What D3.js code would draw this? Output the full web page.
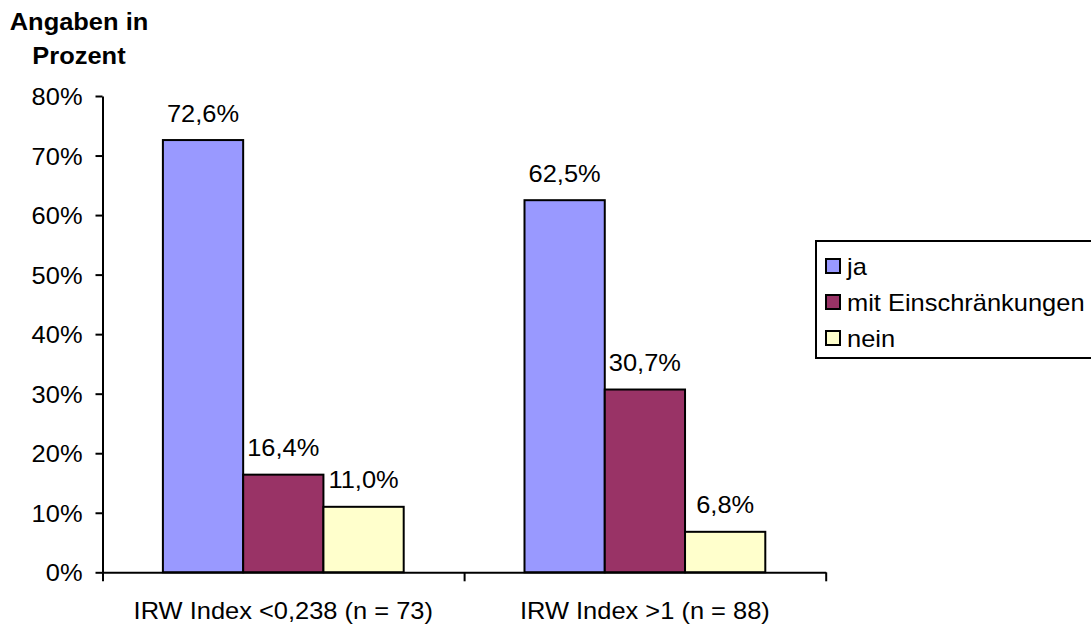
<!DOCTYPE html>
<html>
<head>
<meta charset="utf-8">
<script src="https://cdn.jsdelivr.net/npm/d3@7"></script>
<style>
  html, body { margin: 0; padding: 0; background: #fff; }
  svg { display: block; }
  text { font-family: "Liberation Sans", Arial, sans-serif; font-size: 24px; fill: #000; }
</style>
</head>
<body>
<svg id="chart" width="1091" height="625"></svg>
<script>
// Data
const categories = ["IRW Index <0,238 (n = 73)", "IRW Index >1 (n = 88)"];
const seriesNames = ["ja", "mit Einschränkungen", "nein"];
const seriesColors = ["#9999FF", "#993366", "#FFFFCC"];
const jaValues = [72.6, 62.5];
const mitValues = [16.4, 30.7];
const neinValues = [11.0, 6.8];
const yTicks = [0, 10, 20, 30, 40, 50, 60, 70, 80];
const titleLines = ["Angaben in", "Prozent"];

const series = [jaValues, mitValues, neinValues];
const fmt = v => v.toFixed(1).replace(".", ",") + "%";

const svg = d3.select("#chart");
const stretch = 1.06;

// widen glyphs horizontally a little
function widen(sel) {
  sel.each(function () {
    const w = this.getComputedTextLength();
    this.setAttribute("textLength", w * stretch);
    this.setAttribute("lengthAdjust", "spacingAndGlyphs");
  });
}

const plot = { left: 102.5, right: 825.7, top: 96, bottom: 572.3 };

const x0 = d3.scaleBand()
  .domain(categories)
  .range([plot.left, plot.right])
  .paddingInner(0)
  .paddingOuter(0);

const groupPad = 60.4;
const x1 = d3.scaleBand()
  .domain(seriesNames)
  .range([groupPad, x0.bandwidth() - groupPad])
  .padding(0);

const y = d3.scaleLinear().domain([0, 80]).range([plot.bottom, plot.top]);

// Bars
const groups = svg.append("g").selectAll("g")
  .data(categories)
  .join("g")
  .attr("transform", d => `translate(${x0(d)},0)`);

groups.each(function (cat, ci) {
  const g = d3.select(this);
  const rows = seriesNames.map((s, si) => ({ s, si, v: series[si][ci] }));
  g.selectAll("rect")
    .data(rows)
    .join("rect")
    .attr("x", d => x1(d.s))
    .attr("y", d => y(d.v))
    .attr("width", x1.bandwidth())
    .attr("height", d => y(0) - y(d.v))
    .attr("fill", d => seriesColors[d.si])
    .attr("stroke", "#000")
    .attr("stroke-width", 2);
  g.selectAll("text.val")
    .data(rows)
    .join("text")
    .attr("class", "val")
    .attr("x", d => x1(d.s) + x1.bandwidth() / 2)
    .attr("y", d => y(d.v) - 18.5)
    .attr("text-anchor", "middle")
    .text(d => fmt(d.v))
    .call(widen);
});

// Y axis
const yAxis = d3.axisLeft(y)
  .tickValues(yTicks)
  .tickFormat(d => d + "%")
  .tickSize(7)
  .tickSizeOuter(0)
  .tickPadding(13);
const yg = svg.append("g")
  .attr("transform", `translate(${plot.left},0)`)
  .call(yAxis);
yg.select(".domain").attr("stroke", "#000").attr("stroke-width", 2);
yg.selectAll(".tick line").attr("stroke", "#000").attr("stroke-width", 2);
yg.selectAll(".tick text")
  .attr("font-size", null)
  .attr("font-family", null)
  .attr("dy", "0.36em")
  .call(widen);

// X axis with boundary ticks between categories
const xLin = d3.scaleLinear().domain([0, categories.length]).range([plot.left, plot.right]);
const xAxis = d3.axisBottom(xLin)
  .tickValues(d3.range(categories.length + 1))
  .tickFormat("")
  .tickSize(9)
  .tickSizeOuter(0);
const xg = svg.append("g")
  .attr("transform", `translate(0,${plot.bottom})`)
  .call(xAxis);
xg.select(".domain").attr("stroke", "#000").attr("stroke-width", 2);
xg.selectAll(".tick line").attr("stroke", "#000").attr("stroke-width", 2);

svg.append("g").selectAll("text")
  .data(categories)
  .join("text")
  .attr("x", d => x0(d) + x0.bandwidth() / 2)
  .attr("y", 619)
  .attr("text-anchor", "middle")
  .text(d => d)
  .call(widen);

// Axis title
svg.append("g").selectAll("text")
  .data(titleLines)
  .join("text")
  .attr("x", 79)
  .attr("y", (d, i) => 30 + i * 34)
  .attr("text-anchor", "middle")
  .attr("font-weight", "bold")
  .text(d => d)
  .call(widen);

// Legend
const legend = svg.append("g");
legend.append("rect")
  .attr("x", 816)
  .attr("y", 241)
  .attr("width", 300)
  .attr("height", 117)
  .attr("fill", "#fff")
  .attr("stroke", "#000")
  .attr("stroke-width", 2);
const items = legend.selectAll("g.item")
  .data(seriesNames)
  .join("g")
  .attr("class", "item")
  .attr("transform", (d, i) => `translate(826,${266 + i * 36})`);
items.append("rect")
  .attr("x", 0)
  .attr("y", -7)
  .attr("width", 14)
  .attr("height", 14)
  .attr("fill", (d, i) => seriesColors[i])
  .attr("stroke", "#000")
  .attr("stroke-width", 2);
items.append("text")
  .attr("x", 21)
  .attr("y", 0)
  .attr("dy", "0.36em")
  .text(d => d)
  .call(widen);
</script>
</body>
</html>
